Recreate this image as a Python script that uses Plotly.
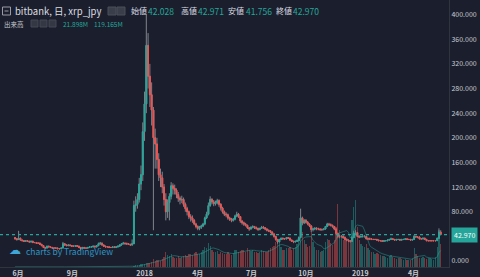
import plotly.graph_objects as go
import pandas as pd

# ---------------- data ----------------
start_date = "2017-05-27"
bar_days = 3
first_open = 38

close = [
    36, 35, 37, 34, 33, 32, 33, 32, 31, 32,
    30, 30, 29, 29, 27, 25, 22, 21, 24, 23,
    22, 21, 21, 21, 20, 20, 21, 28, 26, 25,
    26, 25, 24, 24, 25, 24, 22, 20, 22, 21,
    21, 22, 23, 23, 24, 23, 25, 28, 29, 26,
    24, 23, 23, 22, 22, 23, 22, 23, 24, 26,
    28, 29, 28, 28, 27, 26, 28, 90, 92, 100,
    125, 140, 210, 255, 350, 300, 270, 245, 200, 190,
    165, 140, 135, 120, 100, 80, 95, 105, 122, 118,
    115, 108, 102, 99, 100, 92, 85, 80, 72, 70,
    66, 60, 56, 53, 55, 57, 60, 70, 76, 90,
    100, 96, 93, 95, 98, 92, 86, 80, 76, 75,
    70, 68, 66, 68, 73, 76, 72, 65, 62, 60,
    58, 54, 52, 55, 56, 54, 53, 51, 53, 55,
    54, 52, 50, 49, 47, 44, 40, 35, 31, 35,
    37, 36, 36, 38, 37, 34, 32, 31, 32, 33,
    38, 70, 62, 66, 63, 60, 57, 51, 52, 53,
    52, 52, 51, 51, 52, 56, 60, 59, 58, 56,
    52, 45, 40, 40, 40, 38, 35, 34, 33, 32,
    38, 45, 46, 40, 39, 40, 40, 40, 36, 36,
    36, 35, 35, 35, 34, 33, 33, 32, 33, 33,
    34, 35, 36, 35, 34, 35, 35, 34, 35, 35,
    36, 35, 35, 34, 35, 40, 39, 39, 36, 36,
    37, 35, 33, 33, 33, 33, 33, 33, 37, 47,
    42.97,
]

high = [
    39, 37, 49, 38, 35, 34, 34, 34, 33, 33,
    33, 31, 31, 30, 30, 28, 26, 23, 25, 25,
    24, 23, 22, 22, 22, 21, 22, 31, 29, 27,
    27, 27, 26, 25, 26, 26, 25, 23, 23, 23,
    22, 23, 24, 24, 25, 25, 26, 30, 31, 30,
    27, 25, 24, 24, 23, 24, 24, 24, 25, 27,
    29, 31, 30, 30, 29, 28, 35, 98, 105, 110,
    135, 155, 225, 275, 400, 370, 320, 290, 250, 215,
    200, 175, 150, 145, 125, 110, 100, 110, 128, 126,
    124, 118, 112, 105, 106, 103, 95, 88, 82, 76,
    74, 68, 62, 58, 57, 59, 62, 72, 80, 95,
    105, 102, 99, 98, 101, 100, 94, 88, 82, 79,
    77, 72, 70, 70, 75, 80, 78, 73, 66, 64,
    62, 59, 55, 56, 58, 57, 56, 54, 54, 57,
    57, 55, 53, 51, 50, 48, 45, 41, 36, 36,
    38, 38, 37, 39, 39, 38, 35, 33, 33, 35,
    40, 85, 72, 68, 68, 65, 61, 58, 54, 55,
    55, 54, 53, 53, 53, 57, 62, 62, 61, 59,
    57, 53, 46, 43, 42, 42, 40, 37, 35, 34,
    40, 49, 50, 47, 42, 41, 42, 42, 41, 38,
    38, 37, 36, 36, 36, 35, 34, 34, 34, 34,
    35, 36, 38, 37, 36, 36, 36, 36, 36, 36,
    37, 37, 36, 36, 36, 42, 41, 40, 40, 37,
    38, 38, 36, 34, 34, 34, 34, 34, 38, 53,
    50,
]

low = [
    35, 33, 34, 33, 32, 31, 31, 31, 30, 30,
    29, 29, 28, 28, 26, 24, 21, 19, 21, 22,
    21, 20, 20, 20, 19, 19, 19, 21, 25, 24,
    24, 24, 23, 23, 23, 23, 21, 18, 19, 20,
    20, 20, 21, 22, 22, 22, 22, 24, 26, 25,
    23, 22, 22, 21, 21, 21, 21, 21, 22, 23,
    25, 27, 27, 26, 26, 25, 25, 28, 80, 85,
    95, 115, 130, 195, 240, 280, 250, 220, 50, 150,
    150, 130, 120, 110, 90, 66, 70, 66, 100, 108,
    108, 102, 96, 92, 94, 88, 80, 74, 68, 64,
    62, 58, 53, 50, 50, 52, 55, 58, 68, 74,
    88, 92, 89, 90, 92, 88, 82, 77, 73, 71,
    67, 65, 63, 64, 66, 71, 70, 62, 59, 57,
    56, 52, 49, 51, 53, 52, 51, 49, 50, 52,
    52, 50, 48, 47, 45, 42, 38, 33, 28, 30,
    34, 35, 35, 35, 36, 33, 31, 29, 30, 31,
    32, 37, 58, 60, 61, 58, 55, 47, 48, 50,
    50, 50, 49, 49, 50, 51, 55, 57, 56, 54,
    50, 43, 37, 37, 38, 36, 34, 32, 31, 30,
    31, 37, 42, 39, 37, 38, 38, 38, 35, 34,
    34, 34, 34, 34, 33, 32, 32, 31, 31, 32,
    32, 33, 34, 34, 33, 33, 34, 33, 33, 34,
    34, 34, 34, 33, 33, 34, 38, 37, 35, 35,
    35, 34, 32, 32, 32, 32, 32, 32, 33, 36,
    41.756,
]

volume = [
    3, 2, 4, 2, 2, 1, 1, 1, 1, 1,
    1, 1, 1, 1, 2, 2, 2, 1, 1, 1,
    1, 1, 1, 1, 1, 1, 1, 3, 2, 1,
    1, 1, 1, 1, 1, 1, 1, 2, 1, 1,
    1, 1, 1, 1, 1, 1, 2, 3, 3, 2,
    1, 1, 1, 1, 1, 1, 1, 1, 1, 2,
    3, 3, 2, 2, 2, 2, 3, 20, 25, 30,
    35, 40, 45, 50, 60, 55, 60, 80, 120, 90,
    100, 110, 90, 120, 150, 220, 180, 160, 200, 150,
    130, 140, 160, 130, 150, 170, 180, 160, 200, 190,
    180, 210, 220, 200, 190, 220, 250, 300, 280, 360,
    320, 250, 230, 220, 240, 200, 230, 210, 190, 200,
    220, 200, 180, 210, 250, 260, 220, 240, 250, 260,
    230, 280, 260, 240, 250, 230, 220, 210, 230, 250,
    240, 220, 230, 260, 280, 300, 320, 380, 420, 360,
    300, 260, 250, 280, 290, 300, 260, 280, 300, 350,
    450, 780, 520, 400, 350, 300, 320, 520, 380, 300,
    260, 250, 230, 240, 260, 380, 420, 400, 360, 330,
    400, 600, 940, 560, 450, 400, 450, 420, 400, 380,
    700, 900, 1000, 600, 400, 350, 320, 300, 340, 280,
    250, 230, 220, 200, 210, 190, 180, 170, 160, 150,
    140, 170, 180, 150, 130, 120, 130, 140, 120, 110,
    120, 110, 100, 110, 130, 290, 200, 160, 140, 130,
    150, 140, 120, 130, 140, 120, 110, 150, 300, 560,
    350,
]

tick_dates = ["2017-06-01", "2017-09-01", "2018-01-01", "2018-04-01",
              "2018-07-01", "2018-10-01", "2019-01-01", "2019-04-01"]
tick_text = ["6月", "9月", "2018", "4月", "7月", "10月", "2019", "4月"]
# 40.000 is hidden behind the last-price label in the reference
price_ticks = [0, 80, 120, 160, 200, 240, 280, 320, 360, 400]

title_text = "bitbank, 日, xrp_jpy"
ohlc_labels = ["始値", "高値", "安値", "終値"]
ohlc_values = ["42.028", "42.971", "41.756", "42.970"]
vol_label = "出来高"
vol_values = ["21.898M", "119.165M"]
ma_window = 7

# ---------------- derived ----------------
dates = pd.date_range(start_date, periods=len(close), freq=f"{bar_days}D")
open_ = [first_open] + close[:-1]
body_hi = [max(o, c) for o, c in zip(open_, close)]
body_lo = [min(o, c) for o, c in zip(open_, close)]
vol_ma = pd.Series(volume).rolling(ma_window, min_periods=1).mean()

BG = "#1b1f2d"
UP = "#26a69a"
DN = "#ef5350"
WICK = "#80838c"
TXT = "#c9cbd1"
FONT = "Noto Sans CJK JP"

W_PLOT, H_PLOT = 449, 267


def px(x):
    return x / W_PLOT


def py(y):
    return 1 - y / H_PLOT


vol_colors = ["rgba(38,166,154,0.45)" if c >= o else "rgba(239,83,80,0.45)"
              for o, c in zip(open_, close)]

fig = go.Figure()

# volume (behind)
fig.add_trace(go.Bar(x=dates, y=volume, marker=dict(color=vol_colors, line=dict(width=0)),
                     width=bar_days * 86400000 * 0.7, yaxis="y", hoverinfo="skip"))
fig.add_trace(go.Scatter(x=dates, y=vol_ma, mode="lines",
                         line=dict(color="rgba(38,166,154,0.6)", width=0.8),
                         yaxis="y", hoverinfo="skip"))

# wicks
fig.add_trace(go.Candlestick(
    x=dates, open=open_, high=high, low=low, close=close, yaxis="y2",
    increasing=dict(line=dict(color=WICK, width=1), fillcolor=WICK),
    decreasing=dict(line=dict(color=WICK, width=1), fillcolor=WICK),
    whiskerwidth=0, hoverinfo="skip"))
# bodies
fig.add_trace(go.Candlestick(
    x=dates, open=open_, high=body_hi, low=body_lo, close=close, yaxis="y2",
    increasing=dict(line=dict(color=UP, width=1), fillcolor=UP),
    decreasing=dict(line=dict(color=DN, width=1), fillcolor=DN),
    whiskerwidth=0, hoverinfo="skip"))

vol_top = max(volume) * 4.0

shapes = [
    dict(type="line", xref="paper", x0=0, x1=1, yref="y2",
         y0=close[-1], y1=close[-1], line=dict(color=UP, width=1.2, dash="dot")),
    # header icons
    dict(type="rect", xref="paper", yref="paper", x0=px(2.5), x1=px(10.5), y0=py(15), y1=py(7),
         line=dict(color="#9a9ca3", width=1)),
    dict(type="line", xref="paper", yref="paper", x0=px(4.5), x1=px(8.5), y0=py(11), y1=py(11),
         line=dict(color="#9a9ca3", width=1)),
]
for xi in [108, 117]:
    shapes.append(dict(type="rect", xref="paper", yref="paper", x0=px(xi), x1=px(xi + 8),
                       y0=py(15), y1=py(7), fillcolor="#3a3e4a", line=dict(color="#4a4e5a", width=1)))
for xi in [31, 40, 49]:
    shapes.append(dict(type="rect", xref="paper", yref="paper", x0=px(xi), x1=px(xi + 7),
                       y0=py(27), y1=py(20), fillcolor="#343844", line=dict(color="#454957", width=1)))

ann = [
    dict(text=title_text, x=px(13), y=py(11), xref="paper", yref="paper",
         xanchor="left", yanchor="middle", showarrow=False,
         font=dict(size=9.5, color="#dcdde2", family=FONT)),
    dict(text=vol_label, x=px(2), y=py(24), xref="paper", yref="paper",
         xanchor="left", yanchor="middle", showarrow=False,
         font=dict(size=6.5, color=TXT, family=FONT)),
]
for lab, val, xl, xv in zip(ohlc_labels, ohlc_values, [129, 179, 226, 274], [146, 196, 244, 291]):
    ann.append(dict(text=lab, x=px(xl), y=py(11), xref="paper", yref="paper",
                    xanchor="left", yanchor="middle", showarrow=False,
                    font=dict(size=8, color="#dcdde2", family=FONT)))
    ann.append(dict(text=val, x=px(xv), y=py(11), xref="paper", yref="paper",
                    xanchor="left", yanchor="middle", showarrow=False,
                    font=dict(size=8.5, color=UP, family=FONT)))
for val, xv in zip(vol_values, [61, 92]):
    ann.append(dict(text=val, x=px(xv), y=py(24), xref="paper", yref="paper",
                    xanchor="left", yanchor="middle", showarrow=False,
                    font=dict(size=6.5, color=UP, family=FONT)))
# watermark
ann.append(dict(text="☁", x=px(7), y=py(250), xref="paper", yref="paper",
                xanchor="left", yanchor="middle", showarrow=False,
                font=dict(size=12, color="#3ea6d8", family="DejaVu Sans")))
ann.append(dict(text="charts by TradingView", x=px(24), y=py(251), xref="paper", yref="paper",
                xanchor="left", yanchor="middle", showarrow=False,
                font=dict(size=8.5, color="#2f94c4", family=FONT)))
# last price label
ann.append(dict(text=f"{close[-1]:.3f}", x=px(451), y=close[-1], xref="paper", yref="y2",
                xanchor="left", yanchor="middle", showarrow=False, bgcolor=UP, borderpad=2,
                font=dict(size=7, color="#ffffff", family=FONT)))

fig.update_layout(
    width=480, height=277,
    margin=dict(l=0, r=31, t=0, b=10, pad=0),
    paper_bgcolor=BG, plot_bgcolor=BG,
    showlegend=False,
    bargap=0,
    xaxis=dict(type="date", range=["2017-05-01 12:00", "2019-05-31"],
               tickvals=tick_dates, ticktext=tick_text, ticks="",
               tickfont=dict(size=7, color=TXT, family=FONT, weight="bold"),
               showgrid=False, zeroline=False, showline=True, linecolor="#30343f",
               rangeslider=dict(visible=False), automargin=False, fixedrange=True),
    yaxis=dict(range=[0, vol_top], visible=False, fixedrange=True),
    yaxis2=dict(overlaying="y", side="right", range=[-9.7, 423.7],
                tickvals=price_ticks, ticktext=[f"{v:.3f}" for v in price_ticks],
                ticks="", tickfont=dict(size=7, color=TXT, family=FONT),
                showgrid=False, zeroline=False, showline=True, linecolor="#30343f",
                automargin=False, fixedrange=True),
    shapes=shapes,
    annotations=ann,
)

fig.write_html("out.html")
